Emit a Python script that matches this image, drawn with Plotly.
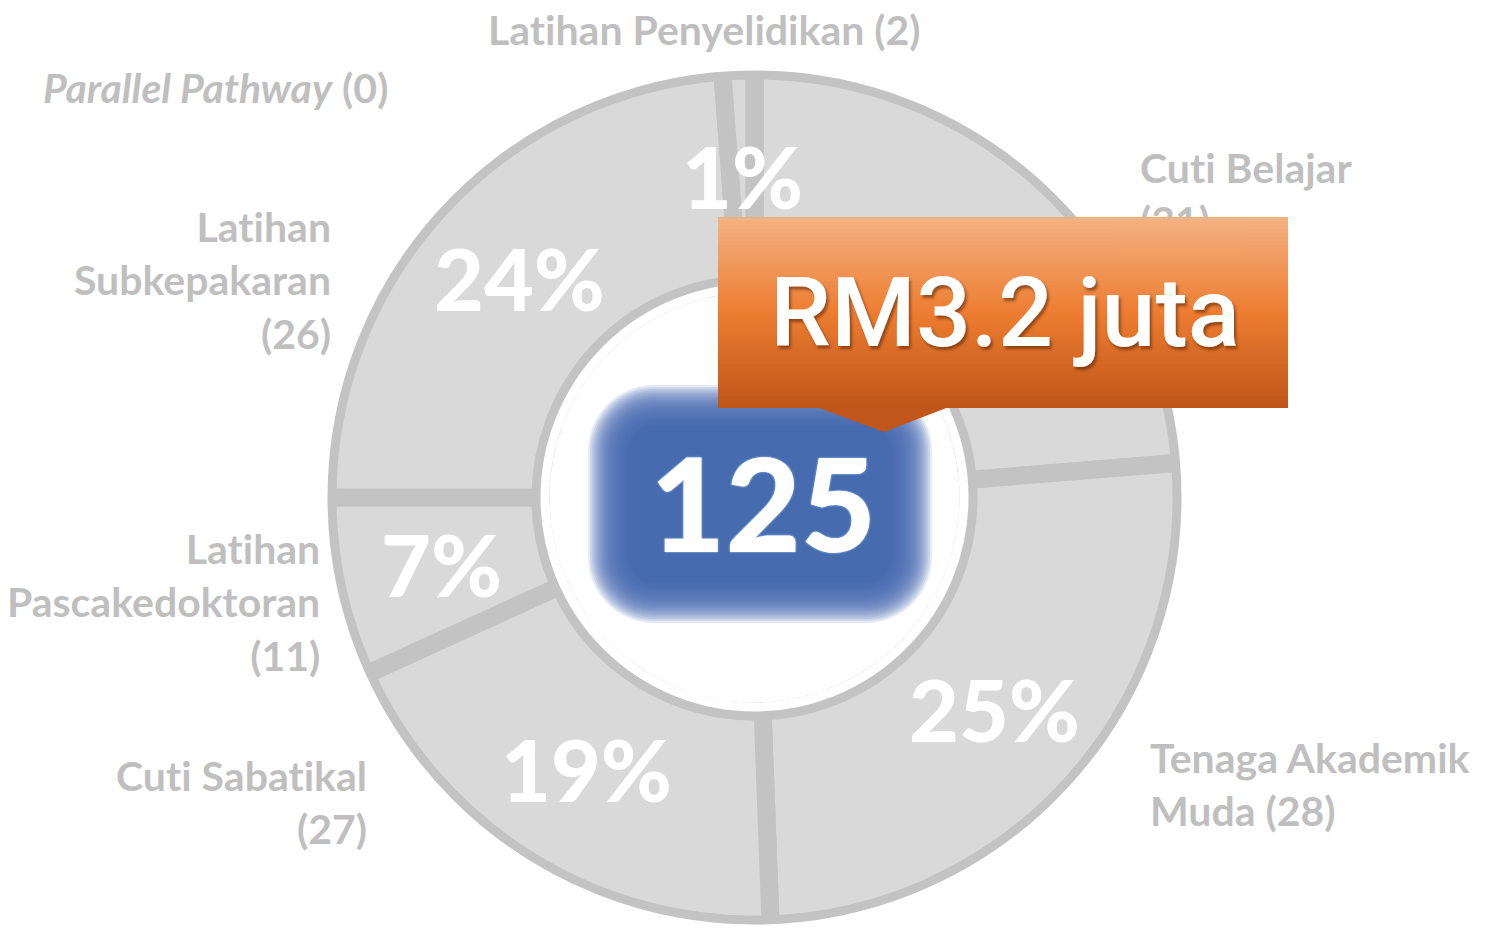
import math
import plotly.graph_objects as go

# the page body adds an 8 px margin, so the figure starts at (8, 8)
OFF = 8
W, H = 1485 - OFF, 930 - OFF

# data (clockwise from 12 o'clock)
labels = ["Cuti Belajar", "Tenaga Akademik Muda", "Cuti Sabatikal",
          "Latihan Pascakedoktoran", "Latihan Subkepakaran",
          "Latihan Penyelidikan", "Parallel Pathway"]
counts = [31, 28, 27, 11, 26, 2, 0]
shares = [23.7, 25.7, 18.8, 6.8, 23.8, 1.2, 0]
pct_text = ["24%", "25%", "19%", "7%", "24%", "1%", ""]
total_count = "125"
total_value = "RM3.2 juta"

# how each outside label wraps
wrapped = ["Cuti Belajar<br>", "Tenaga Akademik<br>Muda ", "Cuti Sabatikal<br>",
           "Latihan<br>Pascakedoktoran<br>", "Latihan<br>Subkepakaran<br>",
           "Latihan Penyelidikan ", "<i>Parallel Pathway</i> "]
# (x px, y px, anchor) of each outside label block
label_pos = [(1138, 194, "left"), (1148, 784, "left"), (369, 802, "right"),
             (322, 602, "right"), (333, 280, "right"), (704, 29, "center"),
             (390, 87, "right")]

CX, CY, R = 754.5, 497.5, 427
R_HOLE = 214
LINE = "#c3c3c3"
FILL = "#d9d9d9"
LABEL_GREY = "#bfbfbf"


def xp(x):
    return (x - OFF) / W


def yp(y):
    return 1 - (y - OFF) / H


def rrect_path(x0, y0, x1, y1, r):
    k = 0.5523 * r
    p = [
        ("M", [(x0 + r, y0)]),
        ("L", [(x1 - r, y0)]),
        ("C", [(x1 - r + k, y0), (x1, y0 + r - k), (x1, y0 + r)]),
        ("L", [(x1, y1 - r)]),
        ("C", [(x1, y1 - r + k), (x1 - r + k, y1), (x1 - r, y1)]),
        ("L", [(x0 + r, y1)]),
        ("C", [(x0 + r - k, y1), (x0, y1 - r + k), (x0, y1 - r)]),
        ("L", [(x0, y0 + r)]),
        ("C", [(x0, y0 + r - k), (x0 + r - k, y0), (x0 + r, y0)]),
    ]
    out = ""
    for cmd, pts in p:
        out += cmd + " ".join(f"{xp(a):.5f},{yp(b):.5f}" for a, b in pts) + " "
    return out + "Z"


def circle(r, width):
    return dict(type="circle", xref="paper", yref="paper",
                x0=xp(CX - r), x1=xp(CX + r), y0=yp(CY + r), y1=yp(CY - r),
                line=dict(color="white", width=width), fillcolor="rgba(0,0,0,0)")


def no_lig(s):
    # keep Lato from joining "ti" into a ligature
    return s.replace("ti", "t\u200ci")


# the first percentage sits under the callout, so it stays as pie text;
# the visible ones go at the middle of the ring like the original chart
text_pos = ["inside"] + ["none"] * (len(labels) - 1)

fig = go.Figure()
fig.add_trace(go.Pie(
    labels=labels,
    values=shares,
    text=pct_text,
    textinfo="text",
    textposition=text_pos,
    insidetextorientation="horizontal",
    textfont=dict(family="Lato", size=86, color="white", weight=900),
    sort=False,
    direction="clockwise",
    rotation=0,
    hole=R_HOLE / R,
    marker=dict(colors=[FILL] * len(labels), line=dict(color=LINE, width=18)),
    domain=dict(x=[xp(CX - R), xp(CX + R)], y=[yp(CY + R), yp(CY - R)]),
    showlegend=False,
    hoverinfo="label+value",
))

shapes = [circle(R + 5, 10), circle(R_HOLE - 4.5, 9)]

# blurred blue box in the centre
BLUE = "70,107,175"
bx0, by0, bx1, by1, blur = 608, 405, 912, 603, 20
n = 22
for i in range(n):
    d = blur * (1 - 2 * i / (n - 1))
    shapes.append(dict(type="path", xref="paper", yref="paper",
                       path=rrect_path(bx0 - d, by0 - d, bx1 + d, by1 + d, 46 + d),
                       fillcolor=f"rgba({BLUE},0.14)", line=dict(width=0)))
shapes.append(dict(type="path", xref="paper", yref="paper",
                   path=rrect_path(bx0 + blur, by0 + blur, bx1 - blur, by1 - blur, 26),
                   fillcolor=f"rgb({BLUE})", line=dict(width=0)))

# orange callout with a vertical gradient
stops = [(0.0, (244, 178, 132)), (0.5, (237, 125, 49)), (1.0, (190, 85, 24))]
ox0, oy0, ox1, oy1 = 718, 217, 1288, 408


def grad_at(y):
    t = min(max((y - oy0) / (oy1 - oy0), 0), 1)
    for (t0, c0), (t1, c1) in zip(stops[:-1], stops[1:]):
        if t <= t1:
            f = (t - t0) / (t1 - t0)
            return tuple(round(a + (b - a) * f) for a, b in zip(c0, c1))
    return stops[-1][1]


shapes.append(dict(type="path", xref="paper", yref="paper",
                   path=f"M{xp(811)},{yp(405)} L{xp(884)},{yp(432)} L{xp(954)},{yp(405)} Z",
                   fillcolor="rgb(192,86,25)", line=dict(width=0)))
steps = 48
h = (oy1 - oy0) / steps
for i in range(steps):
    c = grad_at(oy0 + (i + 0.5) * h)
    y_bot = min(oy0 + (i + 1) * h + 1, oy1)
    shapes.append(dict(type="rect", xref="paper", yref="paper",
                       x0=xp(ox0), x1=xp(ox1), y0=yp(y_bot), y1=yp(oy0 + i * h),
                       fillcolor=f"rgb{c}", line=dict(width=0)))

annotations = []
for name, c, (x, y, anchor) in zip(wrapped, counts, label_pos):
    annotations.append(dict(
        text=no_lig(f"{name}({c})"), x=xp(x), y=yp(y), xref="paper", yref="paper",
        xanchor=anchor, yanchor="middle", align=anchor,
        showarrow=False,
        font=dict(family="Lato", size=41, color=LABEL_GREY, weight=700)))

# the callout hides the lower line of the Cuti Belajar label
for i in range(12):
    y = oy0 + i * 3
    annotations.append(dict(text=" ", x=xp(1115), y=yp(y), xref="paper", yref="paper",
                            xanchor="left", yanchor="top", width=130, height=3,
                            bgcolor=f"rgb{grad_at(y + 1.5)}", borderpad=0, borderwidth=0,
                            showarrow=False, font=dict(size=2)))

# visible percentages at mid-ring, from the cumulative shares
total = sum(shares)
r_mid = (R + R_HOLE) / 2
cum = 0
for s, t, pos in zip(shares, pct_text, text_pos):
    mid = (cum + s / 2) / total * 2 * math.pi
    cum += s
    if pos != "none" or not t:
        continue
    annotations.append(dict(
        text=t, x=xp(CX + r_mid * math.sin(mid)), y=yp(CY - r_mid * math.cos(mid) - 2),
        xref="paper", yref="paper", xanchor="center", yanchor="middle", showarrow=False,
        font=dict(family="Lato", size=86, color="white", weight=900)))

annotations.append(dict(
    text=total_count, x=xp(763), y=yp(502), xref="paper", yref="paper",
    xanchor="center", yanchor="middle", showarrow=False,
    font=dict(family="Lato", size=130, color="white", weight=900,
              shadow="0 0 2px #8fb4e3, 0 0 2px #8fb4e3")))
annotations.append(dict(
    text=total_value, x=xp(1005), y=yp(313), xref="paper", yref="paper",
    xanchor="center", yanchor="middle", showarrow=False,
    font=dict(family="Roboto", size=97, color="white", weight=500,
              shadow="2px 3px 3px rgba(80,30,0,0.55)")))

fig.update_layout(
    width=W, height=H,
    margin=dict(l=0, r=0, t=0, b=0),
    paper_bgcolor="white",
    plot_bgcolor="white",
    uniformtext=dict(minsize=86, mode="show"),
    shapes=shapes,
    annotations=annotations,
)

fig.write_html("out.html")
